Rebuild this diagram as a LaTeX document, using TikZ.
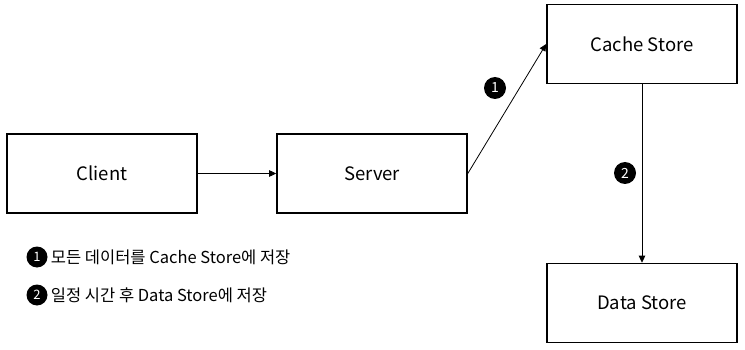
\documentclass[tikz,border=0pt]{standalone}
\usepackage{fontspec}
\setmainfont{Noto Sans CJK KR}
\usetikzlibrary{positioning, arrows.meta}

\tikzset{
    box/.style={draw, line width=1.6pt, minimum width=190pt, minimum height=79pt, inner sep=0pt, font=\fontsize{18.5}{22}\selectfont},
    badge/.style={circle, fill=black, text=white, inner sep=0pt, minimum size=22pt, font=\fontsize{14}{14}\selectfont},
    freccia/.style={-{Triangle[length=7pt,width=6.5pt]}, line width=0.8pt}
}

\begin{document}
\begin{tikzpicture}[x=1pt, y=-1pt]
        \useasboundingbox (0,0) rectangle (745,350);
        % Blocchi
        \node[box] (client) at (102,173.5) {Client};
        \node[box] (server) at (372,173.5) {Server};
        \node[box] (cache) at (642,44) {Cache Store};
        \node[box] (data) at (642,303) {Data Store};

        % Collegamenti
        \draw[freccia] (client) -- (server);
        \draw[freccia] (server.east) -- (cache.west);
        \draw[freccia] (cache) -- (data);

        % Passi numerati
        \node[badge] (passo1) at (495,88) {1};
        \node[badge] (passo2) at (625,173) {2};

        % Legenda
        \foreach \y/\n/\testo in {257/1/{모든 데이터를 Cache Store에 저장},
                                  295/2/{일정 시간 후 Data Store에 저장}} {
            \node[badge, minimum size=21pt, font=\fontsize{13}{13}\selectfont] (leg\n) at (37,\y) {\n};
            \node[right=3pt of leg\n, inner sep=0pt, font=\fontsize{16.5}{19}\selectfont] (testo\n) {\testo};
        }
    \end{tikzpicture}
\end{document}
